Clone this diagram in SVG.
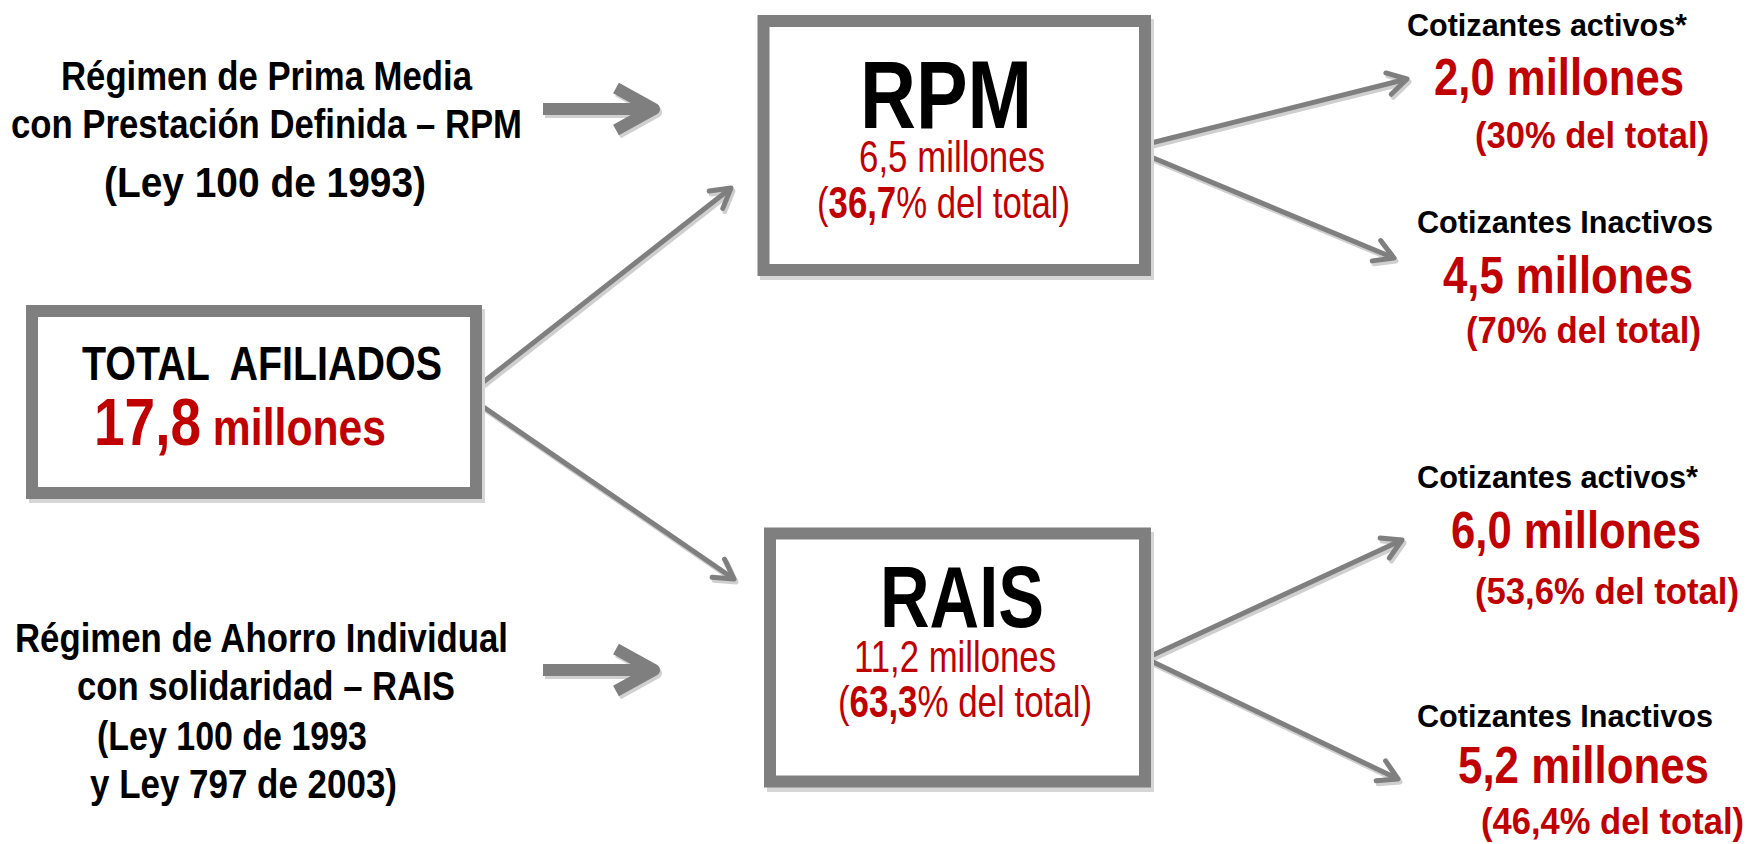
<svg xmlns="http://www.w3.org/2000/svg" width="1758" height="844" viewBox="0 0 1758 844">
<style>
text{font-family:"Liberation Sans",Arial,sans-serif;}
.b{font-weight:bold;}
.blk{fill:#000;}
.red{fill:#c00000;}
.lbl{font-size:41px;font-weight:bold;fill:#000;}
.cot{font-size:32px;font-weight:bold;fill:#000;}
.mil{font-size:52px;font-weight:bold;fill:#c00000;}
.pct{font-size:37px;font-weight:bold;fill:#c00000;}
.sub{font-size:44px;fill:#c00000;}
.box{fill:#fff;stroke:#7f7f7f;stroke-width:12;}
.boxsh{fill:none;stroke:#d6d6d6;stroke-width:12;}
.con{fill:none;stroke:#7f7f7f;stroke-width:5;}
.consh{fill:none;stroke:#cfcfcf;stroke-width:5;}
.big{fill:none;stroke:#7f7f7f;stroke-width:12;stroke-linejoin:round;}
.bigsh{fill:none;stroke:#d0d0d0;stroke-width:12;stroke-linejoin:round;}
</style>
<defs>
<marker id="ah" markerUnits="userSpaceOnUse" markerWidth="30" markerHeight="30" viewBox="0 0 30 30" refX="24" refY="15" orient="auto">
<path d="M5,4 L24,15 L5,26" fill="none" stroke="#7f7f7f" stroke-width="5" stroke-linecap="round" stroke-linejoin="round"/>
</marker>
<marker id="ahs" markerUnits="userSpaceOnUse" markerWidth="30" markerHeight="30" viewBox="0 0 30 30" refX="24" refY="15" orient="auto">
<path d="M5,4 L24,15 L5,26" fill="none" stroke="#cfcfcf" stroke-width="5" stroke-linecap="round" stroke-linejoin="round"/>
</marker>
</defs>
<rect width="1758" height="844" fill="#fff"/>

<g id="connectors">
<g transform="translate(2,3)">
<line class="consh" x1="482" y1="383" x2="731" y2="188" marker-end="url(#ahs)"/>
<line class="consh" x1="482" y1="406" x2="734" y2="579" marker-end="url(#ahs)"/>
<line class="consh" x1="1151" y1="143" x2="1407" y2="79" marker-end="url(#ahs)"/>
<line class="consh" x1="1151" y1="157" x2="1394" y2="258" marker-end="url(#ahs)"/>
<line class="consh" x1="1151" y1="656" x2="1402" y2="540" marker-end="url(#ahs)"/>
<line class="consh" x1="1151" y1="661" x2="1398" y2="779" marker-end="url(#ahs)"/>
<path class="bigsh" d="M543,109 H648 M616,88 L654,109 L616,130"/>
<path class="bigsh" d="M543,670 H648 M616,649 L654,670 L616,691"/>
</g>
<line class="con" x1="482" y1="383" x2="731" y2="188" marker-end="url(#ah)"/>
<line class="con" x1="482" y1="406" x2="734" y2="579" marker-end="url(#ah)"/>
<line class="con" x1="1151" y1="143" x2="1407" y2="79" marker-end="url(#ah)"/>
<line class="con" x1="1151" y1="157" x2="1394" y2="258" marker-end="url(#ah)"/>
<line class="con" x1="1151" y1="656" x2="1402" y2="540" marker-end="url(#ah)"/>
<line class="con" x1="1151" y1="661" x2="1398" y2="779" marker-end="url(#ah)"/>
<path class="big" d="M543,109 H648 M616,88 L654,109 L616,130"/>
<path class="big" d="M543,670 H648 M616,649 L654,670 L616,691"/>
</g>

<g id="rpm-label">
<text class="lbl" x="61" y="90" textLength="411" lengthAdjust="spacingAndGlyphs">Régimen de Prima Media</text>
<text class="lbl" x="11" y="138" textLength="511" lengthAdjust="spacingAndGlyphs">con Prestación Definida – RPM</text>
<text class="lbl" x="104" y="197" style="font-size:43px" textLength="322" lengthAdjust="spacingAndGlyphs">(Ley 100 de 1993)</text>
</g>

<g id="rais-label">
<text class="lbl" x="15" y="652" textLength="493" lengthAdjust="spacingAndGlyphs">Régimen de Ahorro Individual</text>
<text class="lbl" x="77" y="700" textLength="378" lengthAdjust="spacingAndGlyphs">con solidaridad – RAIS</text>
<text class="lbl" x="97" y="750" textLength="270" lengthAdjust="spacingAndGlyphs">(Ley 100 de 1993</text>
<text class="lbl" x="90" y="798" textLength="307" lengthAdjust="spacingAndGlyphs">y Ley 797 de 2003)</text>
</g>

<g id="total">
<rect class="boxsh" x="35" y="315" width="444" height="182"/>
<rect class="box" x="32" y="311" width="444" height="182"/>
<text class="b blk" x="82" y="380" style="font-size:48px;white-space:pre" xml:space="preserve" textLength="360" lengthAdjust="spacingAndGlyphs">TOTAL  AFILIADOS</text>
<text class="b red" x="94" y="445" textLength="292" lengthAdjust="spacingAndGlyphs"><tspan style="font-size:67px">17,8</tspan><tspan style="font-size:52px"> millones</tspan></text>
</g>

<g id="rpm">
<rect class="boxsh" x="766" y="25" width="382" height="249"/>
<rect class="box" x="763.5" y="21" width="381.5" height="249"/>
<text class="b blk" x="860" y="128" style="font-size:96px" textLength="172" lengthAdjust="spacingAndGlyphs">RPM</text>
<text class="sub" x="859" y="172" textLength="186" lengthAdjust="spacingAndGlyphs">6,5 millones</text>
<text class="sub" x="817" y="218" textLength="253" lengthAdjust="spacingAndGlyphs">(<tspan class="b">36,7</tspan>% del total)</text>
</g>

<g id="rais">
<rect class="boxsh" x="773" y="538" width="375" height="248"/>
<rect class="box" x="770" y="533.5" width="375" height="248"/>
<text class="b blk" x="880" y="627" style="font-size:88px" textLength="164" lengthAdjust="spacingAndGlyphs">RAIS</text>
<text class="sub" x="854" y="672" textLength="202" lengthAdjust="spacingAndGlyphs">11,2 millones</text>
<text class="sub" x="838" y="717" textLength="254" lengthAdjust="spacingAndGlyphs">(<tspan class="b">63,3</tspan>% del total)</text>
</g>

<g id="rpm-activos">
<text class="cot" x="1407" y="36" textLength="280" lengthAdjust="spacingAndGlyphs">Cotizantes activos*</text>
<text class="mil" x="1434" y="95" textLength="250" lengthAdjust="spacingAndGlyphs">2,0 millones</text>
<text class="pct" x="1475" y="148" textLength="234" lengthAdjust="spacingAndGlyphs">(30% del total)</text>
</g>

<g id="rpm-inactivos">
<text class="cot" x="1417" y="233" textLength="296" lengthAdjust="spacingAndGlyphs">Cotizantes Inactivos</text>
<text class="mil" x="1443" y="293" textLength="250" lengthAdjust="spacingAndGlyphs">4,5 millones</text>
<text class="pct" x="1466" y="343" textLength="235" lengthAdjust="spacingAndGlyphs">(70% del total)</text>
</g>

<g id="rais-activos">
<text class="cot" x="1417" y="488" textLength="281" lengthAdjust="spacingAndGlyphs">Cotizantes activos*</text>
<text class="mil" x="1451" y="548" textLength="250" lengthAdjust="spacingAndGlyphs">6,0 millones</text>
<text class="pct" x="1475" y="604" textLength="264" lengthAdjust="spacingAndGlyphs">(53,6% del total)</text>
</g>

<g id="rais-inactivos">
<text class="cot" x="1417" y="727" textLength="296" lengthAdjust="spacingAndGlyphs">Cotizantes Inactivos</text>
<text class="mil" x="1458" y="783" textLength="251" lengthAdjust="spacingAndGlyphs">5,2 millones</text>
<text class="pct" x="1481" y="834" style="font-size:36px" textLength="263" lengthAdjust="spacingAndGlyphs">(46,4% del total)</text>
</g>
</svg>
